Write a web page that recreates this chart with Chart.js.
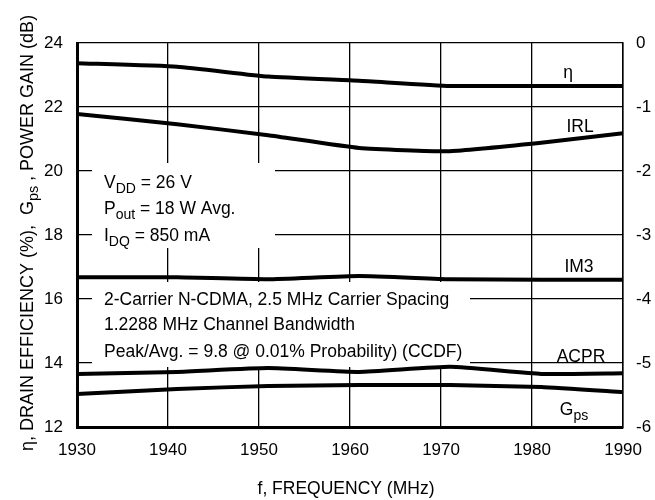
<!DOCTYPE html>
<html>
<head>
<meta charset="utf-8">
<script src="https://cdn.jsdelivr.net/npm/chart.js@4.4.1/dist/chart.umd.min.js"></script>
<style>
  body { margin: 0; background: #fff; }
  canvas { display: block; }
</style>
</head>
<body>
<canvas id="chart" width="655" height="500"></canvas>
<script>
// frequency points (MHz)
const freqs = [1930, 1941, 1951, 1961, 1971, 1981, 1990];

// left axis: efficiency (%) and power gain (dB)
const eta = [23.37, 23.26, 22.95, 22.82, 22.66, 22.66, 22.66];
const gps = [13.03, 13.19, 13.28, 13.31, 13.31, 13.25, 13.09];

// right axis (dB)
const irl = [-1.11, -1.27, -1.44, -1.64, -1.69, -1.56, -1.41];
const im3 = [-3.66, -3.66, -3.69, -3.64, -3.69, -3.70, -3.70];
const acpr = [-5.17, -5.14, -5.08, -5.14, -5.06, -5.17, -5.16];

const xTicks = [1930, 1940, 1950, 1960, 1970, 1980, 1990];
const leftTicks = [12, 14, 16, 18, 20, 22, 24];
const rightTicks = [-6, -5, -4, -3, -2, -1, 0];

const FONT = '"Liberation Sans", Arial, sans-serif';

function pts(ys) {
  return freqs.map((f, i) => ({ x: f, y: ys[i] }));
}

function line(label, ys, axis) {
  return {
    label: label,
    data: pts(ys),
    yAxisID: axis,
    borderColor: '#000',
    borderWidth: 4,
    pointRadius: 0,
    tension: 0.15,
    fill: false
  };
}

// draws text made of normal and subscript parts
function richText(ctx, parts, x, y, size, align) {
  const sub = size * 0.8;
  let w = 0;
  parts.forEach(p => {
    ctx.font = (p.sub ? sub : size) + 'px ' + FONT;
    w += ctx.measureText(p.t).width;
  });
  let cx = align === 'center' ? x - w / 2 : x;
  ctx.textAlign = 'left';
  ctx.textBaseline = 'alphabetic';
  parts.forEach(p => {
    ctx.font = (p.sub ? sub : size) + 'px ' + FONT;
    ctx.fillText(p.t, cx, p.sub ? y + size * 0.3 : y);
    cx += ctx.measureText(p.t).width;
  });
}

const annotations = {
  id: 'annotations',
  beforeDatasetsDraw(chart) {
    const ctx = chart.ctx;
    ctx.save();
    ctx.fillStyle = '#fff';
    ctx.fillRect(92, 163, 183, 85);
    ctx.fillRect(92, 282, 378, 85);
    ctx.fillStyle = '#000';
    const s = 17.5;
    richText(ctx, [{ t: 'V' }, { t: 'DD', sub: true }, { t: ' = 26 V' }], 104, 188, s);
    richText(ctx, [{ t: 'P' }, { t: 'out', sub: true }, { t: ' = 18 W Avg.' }], 104, 214, s);
    richText(ctx, [{ t: 'I' }, { t: 'DQ', sub: true }, { t: ' = 850 mA' }], 104, 241, s);
    richText(ctx, [{ t: '2-Carrier N-CDMA, 2.5 MHz Carrier Spacing' }], 104, 305, s);
    richText(ctx, [{ t: '1.2288 MHz Channel Bandwidth' }], 104, 330, s);
    richText(ctx, [{ t: 'Peak/Avg. = 9.8 @ 0.01% Probability) (CCDF)' }], 104, 357, s);

    richText(ctx, [{ t: 'η' }], 568, 78, s, 'center');
    richText(ctx, [{ t: 'IRL' }], 580, 132, s, 'center');
    richText(ctx, [{ t: 'IM3' }], 579, 272, s, 'center');
    richText(ctx, [{ t: 'ACPR' }], 581, 362, s, 'center');
    richText(ctx, [{ t: 'G' }, { t: 'ps', sub: true }], 574, 415, s, 'center');
    ctx.restore();
  },
  afterDraw(chart) {
    const ctx = chart.ctx;
    ctx.save();
    ctx.fillStyle = '#000';
    richText(ctx, [{ t: 'f, FREQUENCY (MHz)' }], 346, 494, 17.5, 'center');
    ctx.translate(33, 233);
    ctx.rotate(-Math.PI / 2);
    richText(ctx, [
      { t: 'η, DRAIN EFFICIENCY (%),  G' },
      { t: 'ps', sub: true },
      { t: ' , POWER GAIN (dB)' }
    ], 0, 0, 18, 'center');
    ctx.restore();
  }
};

new Chart(document.getElementById('chart'), {
  type: 'line',
  data: {
    datasets: [
      line('η', eta, 'y'),
      line('IRL', irl, 'y2'),
      line('IM3', im3, 'y2'),
      line('ACPR', acpr, 'y2'),
      line('Gps', gps, 'y')
    ]
  },
  options: {
    responsive: false,
    animation: false,
    layout: { padding: { top: 43, left: 0, right: 0, bottom: 0 } },
    plugins: {
      legend: { display: false },
      tooltip: { enabled: false }
    },
    scales: {
      x: {
        type: 'linear',
        min: 1930,
        max: 1990,
        afterBuildTicks: sc => { sc.ticks = xTicks.map(v => ({ value: v })); },
        afterFit: sc => { sc.height = 73; },
        ticks: {
          color: '#000',
          padding: 13,
          font: { size: 17, family: FONT },
          callback: v => String(v)
        },
        grid: { color: '#000', lineWidth: 1.3, drawTicks: false },
        border: { color: '#000', width: 3 }
      },
      y: {
        position: 'left',
        min: 12,
        max: 24,
        afterBuildTicks: sc => { sc.ticks = leftTicks.map(v => ({ value: v })); },
        afterFit: sc => { sc.width = 77; },
        ticks: { color: '#000', padding: 14, font: { size: 17, family: FONT } },
        grid: { color: '#000', lineWidth: 1.3, drawTicks: false },
        border: { color: '#000', width: 3 }
      },
      y2: {
        position: 'right',
        min: -6,
        max: 0,
        afterBuildTicks: sc => { sc.ticks = rightTicks.map(v => ({ value: v })); },
        afterFit: sc => { sc.width = 31; },
        ticks: { color: '#000', padding: 13, font: { size: 17, family: FONT } },
        grid: { display: false, drawTicks: false },
        border: { color: '#000', width: 1.5 }
      }
    }
  },
  plugins: [annotations]
});
</script>
</body>
</html>
